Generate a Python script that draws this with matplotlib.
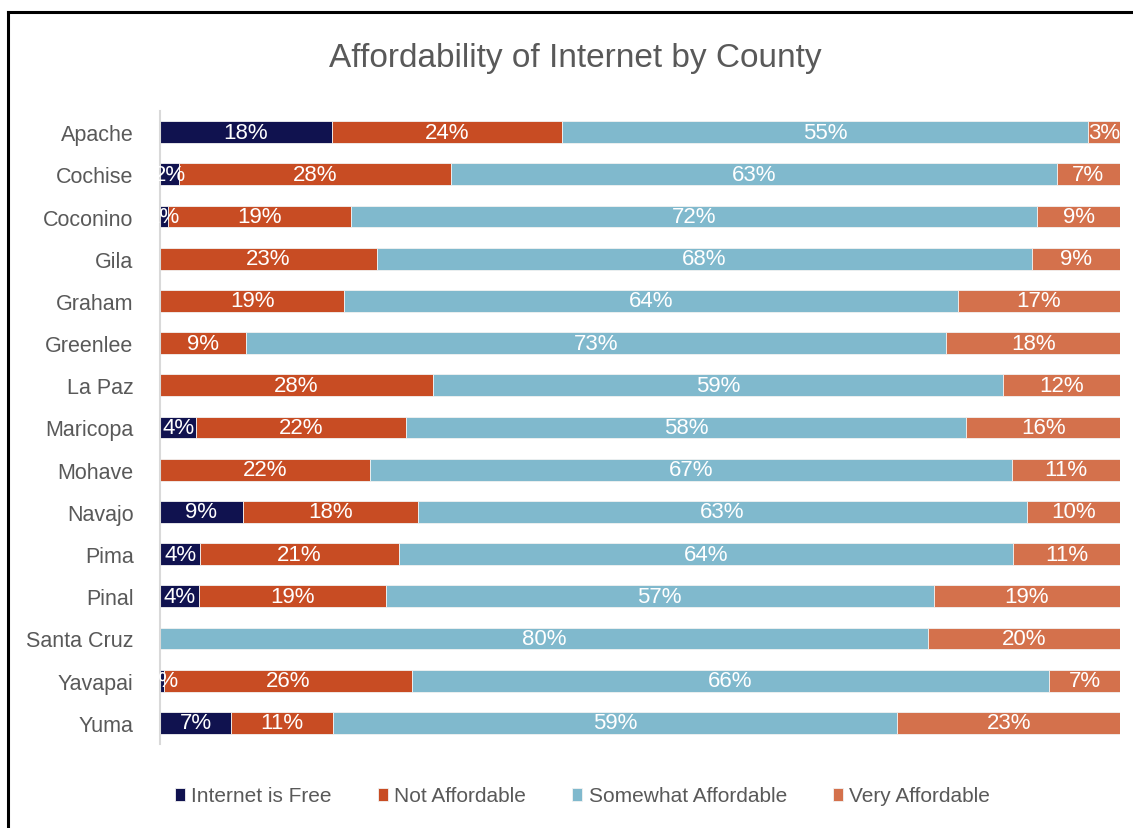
import numpy as np
import matplotlib
matplotlib.use("Agg")
import matplotlib.pyplot as plt
from matplotlib.lines import Line2D

counties = ["Apache", "Cochise", "Coconino", "Gila", "Graham", "Greenlee", "La Paz",
            "Maricopa", "Mohave", "Navajo", "Pima", "Pinal", "Santa Cruz", "Yavapai", "Yuma"]

# share of respondents per answer, per county
internet_free = [0.179, 0.020, 0.008, 0.0, 0.0, 0.0, 0.0,
                 0.038, 0.0, 0.086, 0.042, 0.041, 0.0, 0.004, 0.074]
not_affordable = [0.240, 0.283, 0.191, 0.226, 0.192, 0.090, 0.284,
                  0.218, 0.219, 0.183, 0.207, 0.194, 0.0, 0.258, 0.106]
somewhat_affordable = [0.548, 0.631, 0.715, 0.682, 0.639, 0.729, 0.594,
                       0.584, 0.668, 0.634, 0.640, 0.571, 0.800, 0.664, 0.588]
very_affordable = [0.033, 0.066, 0.086, 0.092, 0.169, 0.181, 0.122,
                   0.160, 0.113, 0.097, 0.111, 0.194, 0.200, 0.074, 0.232]

series = [("Internet is Free", internet_free, "#10124F"),
          ("Not Affordable", not_affordable, "#C84C23"),
          ("Somewhat Affordable", somewhat_affordable, "#80B9CD"),
          ("Very Affordable", very_affordable, "#D4714C")]

plt.rcParams["font.family"] = ["Liberation Sans Narrow", "Liberation Sans", "DejaVu Sans"]

fig = plt.figure(figsize=(11.33, 8.29), dpi=100)
ax = fig.add_axes([160 / 1133, 1 - 745 / 829, 960 / 1133, 633 / 829])

y = np.arange(len(counties))
left = np.zeros(len(counties))
for name, vals, color in series:
    vals = np.array(vals)
    bars = ax.barh(y, vals, left=left, height=0.52, color=color, label=name,
                   edgecolor="#F2F2F2", linewidth=0.6)
    labels = [f"{v:.0%}" if v > 0 else "" for v in vals]
    txts = ax.bar_label(bars, labels=labels, label_type="center", color="white", fontsize=16)
    for t in txts:
        t.set_clip_on(True)
    left += vals

ax.set_xlim(0, 1)
ax.set_ylim(len(counties) - 0.5, -0.5)
ax.set_yticks(y)
ax.set_yticklabels(counties, fontsize=15.5, color="#595959")
ax.tick_params(axis="y", length=0, pad=19)
ax.set_xticks([])
for s in ["top", "right", "bottom"]:
    ax.spines[s].set_visible(False)
ax.spines["left"].set_color("#D9D9D9")
ax.spines["left"].set_linewidth(1.5)

fig.text(0.508, 1 - 59 / 829, "Affordability of Internet by County", ha="center", va="center",
         fontsize=24, color="#595959")

fig.legend(loc="center", bbox_to_anchor=(0.514, 1 - 797 / 829), ncol=4, frameon=False,
           fontsize=15, handlelength=0.5, handleheight=0.6, handletextpad=0.3,
           columnspacing=2.2, labelcolor="#595959")

# outer frame, left and top edges
fig.add_artist(Line2D([7.5 / 1133, 7.5 / 1133], [0, 1 - 12.5 / 829], transform=fig.transFigure,
                      color="black", linewidth=2.2))
fig.add_artist(Line2D([7.5 / 1133, 1], [1 - 12.5 / 829, 1 - 12.5 / 829], transform=fig.transFigure,
                      color="black", linewidth=2.2))

fig.savefig("out.png", dpi=100)
